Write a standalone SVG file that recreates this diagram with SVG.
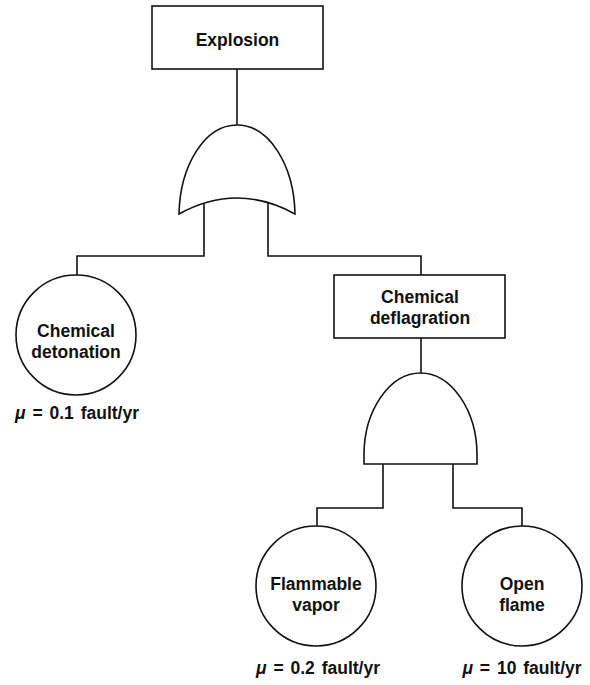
<svg xmlns="http://www.w3.org/2000/svg" width="590" height="685" viewBox="0 0 590 685">
<style>
.ln{fill:none;stroke:#111;stroke-width:1.6}
.box{fill:#fff;stroke:#111;stroke-width:1.6}
.t{font-family:"Liberation Sans",Arial,sans-serif;font-weight:bold;font-size:17.5px;fill:#111;text-anchor:middle}
.mu{font-style:italic}
.lab{word-spacing:2px}
</style>
<rect width="590" height="685" fill="#fff"/>
<g id="connectors">
<path class="ln" d="M237,69 V125"/>
<path class="ln" d="M204,200 V256 H77 V275"/>
<path class="ln" d="M268,200 V256 H421 V275"/>
<path class="ln" d="M421,338 V374"/>
<path class="ln" d="M383,460 V508 H317 V526"/>
<path class="ln" d="M453,460 V508 H522 V526"/>
</g>
<g id="explosion">
<rect class="box" x="152" y="6" width="171" height="63"/>
<text class="t" x="237.5" y="46">Explosion</text>
</g>
<g id="or-gate">
<path class="box" d="M179,214 C180,165 205,125 237,125 C269,125 294,165 295,214 Q237,182 179,214 Z"/>
</g>
<g id="chemical-detonation">
<circle class="box" cx="76" cy="335" r="60"/>
<text class="t" x="76" y="337">Chemical</text>
<text class="t" x="76" y="358">detonation</text>
<text class="t lab" x="77" y="419"><tspan class="mu">μ</tspan> = 0.1 fault/yr</text>
</g>
<g id="chemical-deflagration">
<rect class="box" x="334" y="275" width="171" height="63"/>
<text class="t" x="420" y="303">Chemical</text>
<text class="t" x="420" y="324">deflagration</text>
</g>
<g id="and-gate">
<path class="box" d="M364,464 L364,455 C364,410 390,373 420.5,373 C451,373 477,410 477,455 L477,464 Z"/>
</g>
<g id="flammable-vapor">
<circle class="box" cx="316" cy="586" r="60"/>
<text class="t" x="316" y="590">Flammable</text>
<text class="t" x="316" y="611">vapor</text>
<text class="t lab" x="318" y="674"><tspan class="mu">μ</tspan> = 0.2 fault/yr</text>
</g>
<g id="open-flame">
<circle class="box" cx="522" cy="586" r="60"/>
<text class="t" x="522" y="590">Open</text>
<text class="t" x="522" y="611">flame</text>
<text class="t lab" x="522" y="674"><tspan class="mu">μ</tspan> = 10 fault/yr</text>
</g>
</svg>
